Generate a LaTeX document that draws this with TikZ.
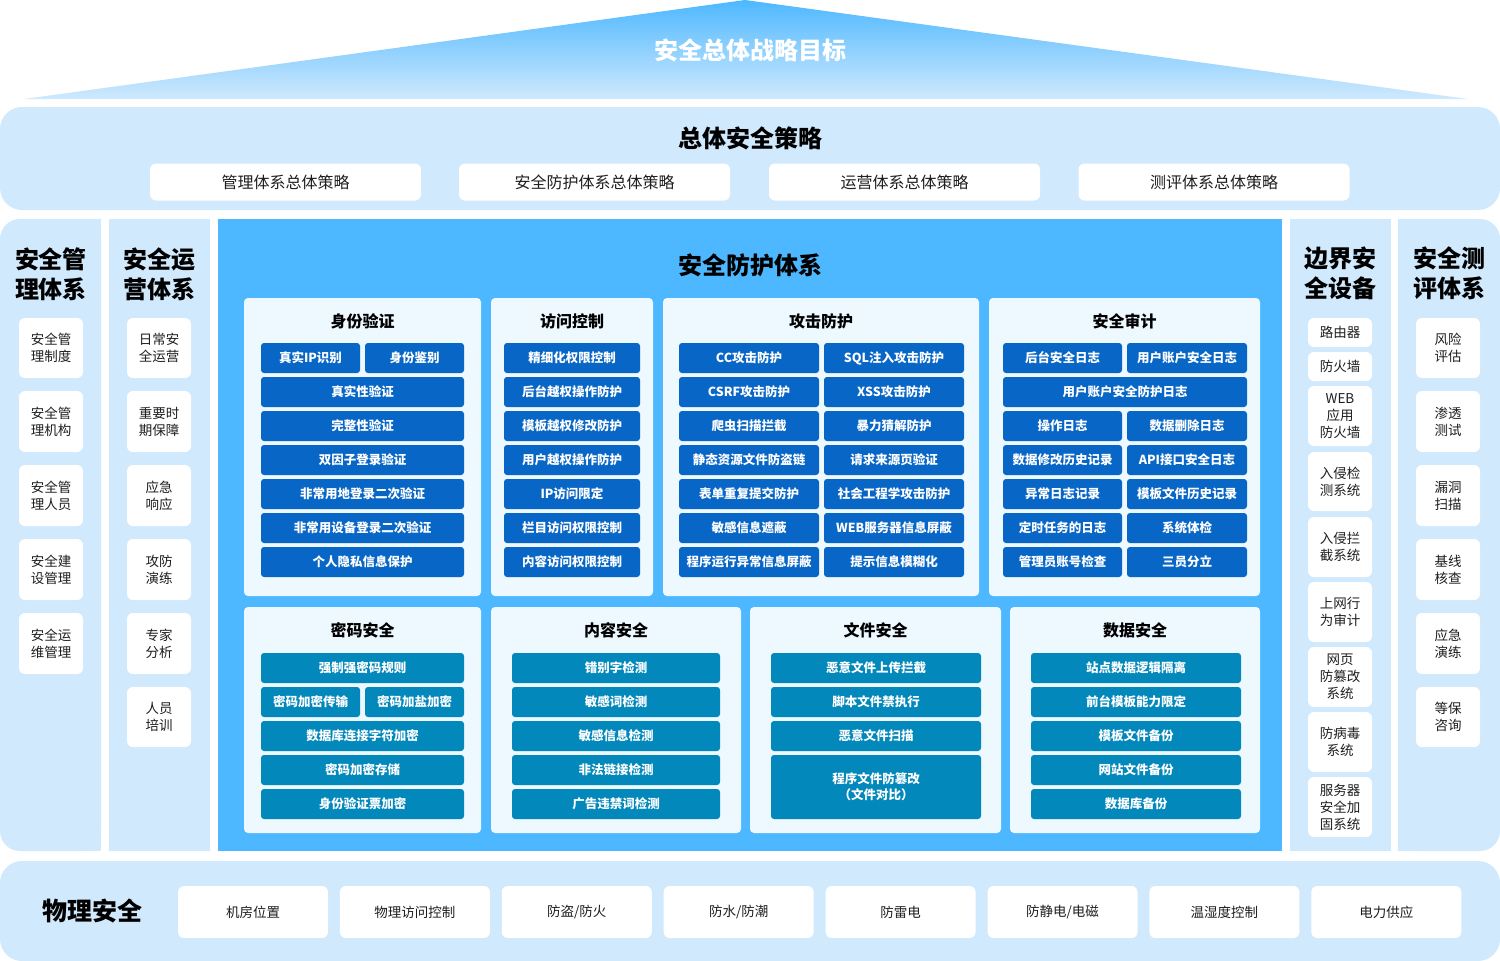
\documentclass[tikz,border=0pt]{standalone}
\usepackage{fontspec}
\setmainfont{Noto Sans CJK SC}
\definecolor{lightp}{RGB}{208,233,253}
\definecolor{mainblue}{RGB}{77,184,255}
\definecolor{innerp}{RGB}{238,248,255}
\definecolor{btnA}{RGB}{8,102,198}
\definecolor{btnB}{RGB}{3,136,187}
\definecolor{txt}{RGB}{30,30,30}
\tikzset{
  btn/.style={rounded corners=3, text=white, font=\fontsize{12.5}{13}\selectfont\bfseries, inner sep=0pt, minimum height=30, align=center},
  colbox/.style={fill=white, rounded corners=6, text=txt, font=\fontsize{13.5}{17}\selectfont, inner sep=0pt, align=center},
  wbox/.style={fill=white, rounded corners=6, text=txt, font=\fontsize{16}{18}\selectfont, inner sep=0pt},
  bigtitle/.style={font=\fontsize{24}{30}\selectfont\bfseries, text=black, align=center, inner sep=0pt},
  ptitle/.style={font=\fontsize{16}{18}\selectfont\bfseries, text=black, inner sep=0pt},
  panel/.style={fill=innerp, rounded corners=4},
}
\newcommand\tb[5]{\node[btn, fill=btnA, minimum width={#3-#2}] (#1) at ({(#2+#3)/2},{358+34*(#4)}) {#5};}
\newcommand\bt[5]{\node[btn, fill=btnB, minimum width={#3-#2}] (#1) at ({(#2+#3)/2},{668+34*(#4)}) {#5};}
\newcommand\cb[6]{\node[colbox, minimum width={#3-#2}, minimum height={#5-#4}] (#1) at ({(#2+#3)/2},{(#4+#5)/2}) {#6};}
\begin{document}
\begin{tikzpicture}[x=1pt,y=-1pt]
\useasboundingbox (0,0) rectangle (1500,961);
% top triangle
\shade[top color=mainblue, bottom color=lightp] (745,0) -- (1468,99) -- (24,99) -- cycle;
\node[font=\fontsize{24}{24}\selectfont\bfseries, text=white] (goal) at (750,50) {安全总体战略目标};
% strategy bar
\fill[lightp, rounded corners=22] (0,107) rectangle (1500,210);
\node[bigtitle] (strat) at (750,138) {总体安全策略};
\node[wbox, minimum width=271, minimum height=37] (s1) at (285.5,182) {管理体系总体策略};
\node[wbox, minimum width=271, minimum height=37] (s2) at (594.5,182) {安全防护体系总体策略};
\node[wbox, minimum width=271, minimum height=37] (s3) at (904.5,182) {运营体系总体策略};
\node[wbox, minimum width=271, minimum height=37] (s4) at (1214,182) {测评体系总体策略};
% side columns
\fill[lightp, rounded corners=20] (0,219) rectangle (101,851);
\fill[lightp] (50,219) rectangle (101,851);
\fill[lightp] (109,219) rectangle (210,851);
\fill[lightp] (1290,219) rectangle (1391,851);
\fill[lightp, rounded corners=20] (1398,219) rectangle (1500,851);
\fill[lightp] (1398,219) rectangle (1450,851);
% main panel
\fill[mainblue] (218,219) rectangle (1282,851);
\node[bigtitle] (mainT) at (750,265) {安全防护体系};
% left col 1
\node[bigtitle] (c1T) at (51,274) {安全管\\理体系};
\cb{c1a}{19}{83}{318}{378}{安全管\\理制度}
\cb{c1b}{19}{83}{391}{452}{安全管\\理机构}
\cb{c1c}{19}{83}{465}{526}{安全管\\理人员}
\cb{c1d}{19}{83}{539}{600}{安全建\\设管理}
\cb{c1e}{19}{83}{613}{674}{安全运\\维管理}
% left col 2
\node[bigtitle] (c2T) at (159.5,274) {安全运\\营体系};
\cb{c2a}{127}{191}{318}{378}{日常安\\全运营}
\cb{c2b}{127}{191}{391}{452}{重要时\\期保障}
\cb{c2c}{127}{191}{465}{526}{应急\\响应}
\cb{c2d}{127}{191}{539}{600}{攻防\\演练}
\cb{c2e}{127}{191}{613}{674}{专家\\分析}
\cb{c2f}{127}{191}{687}{747}{人员\\培训}
% right col 1
\node[bigtitle] (r1T) at (1340,273) {边界安\\全设备};
\cb{r1a}{1308}{1372}{318}{347}{路由器}
\cb{r1b}{1308}{1372}{352}{381}{防火墙}
\cb{r1c}{1308}{1372}{386}{446}{WEB\\应用\\防火墙}
\cb{r1d}{1308}{1372}{452}{511}{入侵检\\测系统}
\cb{r1e}{1308}{1372}{517}{577}{入侵拦\\截系统}
\cb{r1f}{1308}{1372}{582}{642}{上网行\\为审计}
\cb{r1g}{1308}{1372}{647}{707}{网页\\防篡改\\系统}
\cb{r1h}{1308}{1372}{712}{772}{防病毒\\系统}
\cb{r1i}{1308}{1372}{777}{837}{服务器\\安全加\\固系统}
% right col 2
\node[bigtitle] (r2T) at (1449,273) {安全测\\评体系};
\cb{r2a}{1416}{1480}{318}{378}{风险\\评估}
\cb{r2b}{1416}{1480}{391}{452}{渗透\\测试}
\cb{r2c}{1416}{1480}{465}{526}{漏洞\\扫描}
\cb{r2d}{1416}{1480}{539}{600}{基线\\核查}
\cb{r2e}{1416}{1480}{613}{674}{应急\\演练}
\cb{r2f}{1416}{1480}{687}{747}{等保\\咨询}
% inner panels top
\fill[panel] (244,298) rectangle (481,596);
\fill[panel] (491,298) rectangle (653,596);
\fill[panel] (663,298) rectangle (979,596);
\fill[panel] (989,298) rectangle (1260,596);
\node[ptitle] (pt1) at (362.5,321) {身份验证};
\node[ptitle] (pt2) at (572,321) {访问控制};
\node[ptitle] (pt3) at (821,321) {攻击防护};
\node[ptitle] (pt4) at (1124.5,321) {安全审计};
% 身份验证
\tb{sf1}{261}{360}{0}{真实IP识别}
\tb{sf2}{365}{464}{0}{身份鉴别}
\tb{sf3}{261}{464}{1}{真实性验证}
\tb{sf4}{261}{464}{2}{完整性验证}
\tb{sf5}{261}{464}{3}{双因子登录验证}
\tb{sf6}{261}{464}{4}{非常用地登录二次验证}
\tb{sf7}{261}{464}{5}{非常用设备登录二次验证}
\tb{sf8}{261}{464}{6}{个人隐私信息保护}
% 访问控制
\tb{ac1}{504}{640}{0}{精细化权限控制}
\tb{ac2}{504}{640}{1}{后台越权操作防护}
\tb{ac3}{504}{640}{2}{模板越权修改防护}
\tb{ac4}{504}{640}{3}{用户越权操作防护}
\tb{ac5}{504}{640}{4}{IP访问限定}
\tb{ac6}{504}{640}{5}{栏目访问权限控制}
\tb{ac7}{504}{640}{6}{内容访问权限控制}
% 攻击防护
\tb{at1}{679}{819}{0}{CC攻击防护}
\tb{at2}{824}{964}{0}{SQL注入攻击防护}
\tb{at3}{679}{819}{1}{CSRF攻击防护}
\tb{at4}{824}{964}{1}{XSS攻击防护}
\tb{at5}{679}{819}{2}{爬虫扫描拦截}
\tb{at6}{824}{964}{2}{暴力猜解防护}
\tb{at7}{679}{819}{3}{静态资源文件防盗链}
\tb{at8}{824}{964}{3}{请求来源页验证}
\tb{at9}{679}{819}{4}{表单重复提交防护}
\tb{at10}{824}{964}{4}{社会工程学攻击防护}
\tb{at11}{679}{819}{5}{敏感信息遮蔽}
\tb{at12}{824}{964}{5}{WEB服务器信息屏蔽}
\tb{at13}{679}{819}{6}{程序运行异常信息屏蔽}
\tb{at14}{824}{964}{6}{提示信息模糊化}
% 安全审计
\tb{au1}{1003}{1122}{0}{后台安全日志}
\tb{au2}{1127}{1247}{0}{用户账户安全日志}
\tb{au3}{1003}{1247}{1}{用户账户安全防护日志}
\tb{au4}{1003}{1122}{2}{操作日志}
\tb{au5}{1127}{1247}{2}{数据删除日志}
\tb{au6}{1003}{1122}{3}{数据修改历史记录}
\tb{au7}{1127}{1247}{3}{API接口安全日志}
\tb{au8}{1003}{1122}{4}{异常日志记录}
\tb{au9}{1127}{1247}{4}{模板文件历史记录}
\tb{au10}{1003}{1122}{5}{定时任务的日志}
\tb{au11}{1127}{1247}{5}{系统体检}
\tb{au12}{1003}{1122}{6}{管理员账号检查}
\tb{au13}{1127}{1247}{6}{三员分立}
% inner panels bottom
\fill[panel] (244,607) rectangle (481,833);
\fill[panel] (491,607) rectangle (741,833);
\fill[panel] (750,607) rectangle (1001,833);
\fill[panel] (1010,607) rectangle (1260,833);
\node[ptitle] (pt5) at (362.5,630) {密码安全};
\node[ptitle] (pt6) at (616,630) {内容安全};
\node[ptitle] (pt7) at (875.5,630) {文件安全};
\node[ptitle] (pt8) at (1135,630) {数据安全};
% 密码安全
\bt{pw1}{261}{464}{0}{强制强密码规则}
\bt{pw2}{261}{360}{1}{密码加密传输}
\bt{pw3}{365}{464}{1}{密码加盐加密}
\bt{pw4}{261}{464}{2}{数据库连接字符加密}
\bt{pw5}{261}{464}{3}{密码加密存储}
\bt{pw6}{261}{464}{4}{身份验证票加密}
% 内容安全
\bt{ct1}{512}{720}{0}{错别字检测}
\bt{ct2}{512}{720}{1}{敏感词检测}
\bt{ct3}{512}{720}{2}{敏感信息检测}
\bt{ct4}{512}{720}{3}{非法链接检测}
\bt{ct5}{512}{720}{4}{广告违禁词检测}
% 文件安全
\bt{fl1}{771}{981}{0}{恶意文件上传拦截}
\bt{fl2}{771}{981}{1}{脚本文件禁执行}
\bt{fl3}{771}{981}{2}{恶意文件扫描}
\node[btn, fill=btnB, minimum width=210, minimum height=64, font=\fontsize{12.5}{16}\selectfont\bfseries] (fl4) at (876,787) {程序文件防篡改\\（文件对比）};
% 数据安全
\bt{dt1}{1031}{1241}{0}{站点数据逻辑隔离}
\bt{dt2}{1031}{1241}{1}{前台模板能力限定}
\bt{dt3}{1031}{1241}{2}{模板文件备份}
\bt{dt4}{1031}{1241}{3}{网站文件备份}
\bt{dt5}{1031}{1241}{4}{数据库备份}
% physical bar
\fill[lightp, rounded corners=22] (0,861) rectangle (1500,961);
\node[font=\fontsize{25}{25}\selectfont\bfseries, text=black, inner sep=0pt] (phyT) at (92,911) {物理安全};
\foreach \i/\t in {0/{机房位置},1/{物理访问控制},2/{防盗/防火},3/{防水/防潮},4/{防雷电},5/{防静电/电磁},6/{温湿度控制},7/{电力供应}}{
  \node[wbox, font=\fontsize{13.5}{15}\selectfont, minimum width=150, minimum height=52] (ph\i) at ({253+161.9*\i},912) {\t};
}
\end{tikzpicture}
\end{document}
